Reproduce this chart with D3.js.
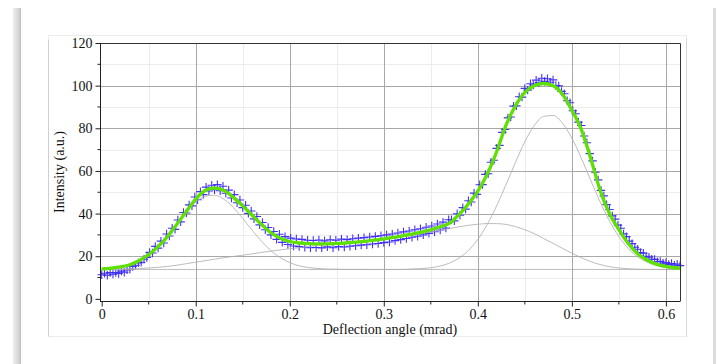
<!DOCTYPE html>
<html>
<head>
<meta charset="utf-8">
<script src="https://cdn.jsdelivr.net/npm/d3@7"></script>
<style>
  html, body { margin: 0; padding: 0; background: #fff; }
  svg { display: block; }
  text { font-family: "Liberation Serif", "DejaVu Serif", serif; fill: #111; }
</style>
</head>
<body>
<svg id="chart" width="717" height="364"></svg>
<script>
// ---- data -------------------------------------------------------------
// Angles (mrad) at which the fitted model and its components are sampled
const fitAngle = [0,0.01,0.02,0.03,0.04,0.05,0.06,0.07,0.08,0.09,0.10,0.11,0.12,0.13,0.14,0.15,0.16,0.17,0.18,0.19,
  0.20,0.21,0.22,0.23,0.24,0.25,0.26,0.27,0.28,0.29,0.30,0.31,0.32,0.33,0.34,0.35,0.36,0.37,0.38,0.39,
  0.40,0.41,0.42,0.43,0.44,0.45,0.46,0.47,0.48,0.49,0.50,0.51,0.52,0.53,0.54,0.55,0.56,0.57,0.58,0.59,
  0.60,0.61,0.615];

// Total fit (green)
const fitIntensity = [14.0,14.4,15.0,16.0,18.0,20.8,24.5,29.2,35.0,41.0,46.8,50.8,52.0,50.8,47.6,43.6,39.2,34.9,31.0,28.4,
  26.9,26.2,25.9,25.8,25.8,26.0,26.2,26.6,27.0,27.5,28.1,28.8,29.6,30.4,31.3,32.4,33.8,35.5,39.5,44.5,
  50.5,58.5,69.0,81.5,90.5,96.8,100.0,101.0,100.0,96.0,88.5,79.5,66.0,51.0,40.0,32.5,26.0,21.2,18.2,16.3,
  15.2,14.6,14.4];

// Fit components on the common background (grey)
const peakLowComponent = [14.1,14.5,15.1,16.3,18.3,21.2,25.1,30.0,35.5,40.9,45.4,48.1,48.6,46.7,42.9,37.7,32.2,27.0,22.6,19.3,
  17.0,15.5,14.7,14.2,14.0,13.9,13.8,13.8,13.8,13.8,13.8,13.8,13.8,13.8,13.8,13.8,13.8,13.8,13.8,13.8,
  13.8,13.8,13.8,13.8,13.8,13.8,13.8,13.8,13.8,13.8,13.8,13.8,13.8,13.8,13.8,13.8,13.8,13.8,13.8,13.8,
  13.8,13.8,13.8];
const broadComponent = [13.8,13.8,13.9,14.0,14.2,14.5,14.8,15.2,15.8,16.5,17.2,17.9,18.6,19.3,19.9,20.5,21.1,21.8,22.4,23.0,
  23.5,24.0,24.5,25.0,25.4,25.8,26.2,26.6,27.0,27.5,28.0,28.6,29.2,29.9,30.6,31.4,32.2,33.0,33.8,34.5,
  35.0,35.3,35.3,34.9,33.9,32.4,30.6,28.3,26.0,23.7,21.4,19.3,17.5,16.1,15.1,14.5,14.1,13.9,13.8,13.8,
  13.8,13.8,13.8];
const peakHighComponent = [13.8,13.8,13.8,13.8,13.8,13.8,13.8,13.8,13.8,13.8,13.8,13.8,13.8,13.8,13.8,13.8,13.8,13.8,13.8,13.8,
  13.8,13.8,13.8,13.8,13.8,13.8,13.8,13.8,13.8,13.8,13.8,13.8,13.8,14.0,14.2,14.6,15.4,16.8,19.1,22.7,
  27.9,34.9,43.6,53.6,64.0,73.7,81.2,85.6,86.0,82.4,75.4,66.1,55.7,45.5,36.5,29.2,23.6,19.7,17.2,15.6,
  14.7,14.3,14.1];

// Measured profile (blue crosses), one sample every 0.003 mrad from 0
const dataStart = 0;
const dataStep = 0.003;
const dataIntensity = [
  11.3,12.0,11.1,12.3,11.6,12.4,11.9,13.0,12.5,13.6,13.9,15.2,15.8,16.9,17.2,18.6,19.4,21.8,21.5,24.6,
  23.8,27.1,26.2,30.4,29.5,33.1,32.6,37.0,36.1,40.5,40.3,44.1,43.6,47.8,46.5,50.3,48.9,52.4,50.6,53.3,
  51.2,53.6,50.7,52.8,49.5,51.0,47.3,48.9,45.1,46.4,42.8,43.9,40.1,41.2,37.5,38.6,34.7,35.8,32.4,33.5,
  30.0,31.6,27.9,30.3,26.5,29.2,25.5,28.5,24.8,28.1,24.5,27.9,24.2,27.5,24.0,27.4,24.1,27.6,23.9,27.2,
  24.4,27.7,24.0,27.5,24.5,28.0,24.3,27.8,24.7,28.2,24.9,28.5,25.2,28.7,25.4,29.0,25.7,29.3,26.0,29.6,
  26.4,30.0,26.7,30.4,27.3,30.9,27.8,31.4,28.3,31.8,28.9,32.4,29.4,32.9,30.0,33.6,30.7,34.2,31.5,35.1,
  32.3,36.0,33.2,37.1,37.1,36.6,39.9,39.2,42.8,42.1,46.0,45.4,49.6,49.0,53.5,53.6,58.4,58.7,64.1,65.0,
  70.6,72.0,78.1,79.4,84.9,85.3,90.4,90.5,94.8,94.6,98.7,97.9,100.9,100.3,102.6,101.4,103.5,102.0,103.2,101.6,
  102.7,100.1,99.9,97.3,96.2,92.9,92.0,88.2,86.8,82.9,81.3,76.4,73.2,68.1,64.7,59.4,55.8,50.9,48.3,44.2,
  41.9,38.9,37.4,34.6,33.1,30.5,29.2,27.1,25.9,24.2,23.3,21.7,21.4,20.0,19.6,18.6,18.5,17.4,17.6,16.7,
  17.0,16.2,16.6,15.8,16.3,15.6
];

// Axis ticks
const xTickValues = [0, 0.1, 0.2, 0.3, 0.4, 0.5, 0.6];
const xMinorValues = [0.05, 0.15, 0.25, 0.35, 0.45, 0.55];
const yTickValues = [0, 20, 40, 60, 80, 100, 120];
const yMinorValues = [10, 30, 50, 70, 90, 110];

const xTitle = "Deflection angle (mrad)";
const yTitle = "Intensity (a.u.)";

// ---- layout -----------------------------------------------------------
const svg = d3.select("#chart");
const plot = { left: 100, right: 680, top: 43, bottom: 301 };
const fontSize = 14;

const x = d3.scaleLinear().domain([-0.0018, 0.615]).range([plot.left, plot.right]);
const y = d3.scaleLinear().domain([-1, 120]).range([plot.bottom, plot.top]);

// page frame around the figure
const defs = svg.append("defs");
const grad = defs.append("linearGradient").attr("id", "pageEdge");
grad.append("stop").attr("offset", "0%").attr("stop-color", "#eeeeee");
grad.append("stop").attr("offset", "70%").attr("stop-color", "#d6d6d6");
grad.append("stop").attr("offset", "100%").attr("stop-color", "#bdbdbd");
svg.append("rect").attr("x", 13).attr("y", 8).attr("width", 8).attr("height", 356).attr("fill", "url(#pageEdge)");
svg.append("rect").attr("x", 713).attr("y", 8).attr("width", 3).attr("height", 356).attr("fill", "#dcdcdc");

// figure panel
svg.append("rect")
  .attr("x", 48.5).attr("y", 35.5).attr("width", 638).attr("height", 301)
  .attr("fill", "#fff").attr("stroke", "#ececec");
svg.append("line").attr("x1", 48.5).attr("x2", 48.5).attr("y1", 40).attr("y2", 336.5)
  .attr("stroke", "#cfcfcf");
svg.append("line").attr("x1", 686.5).attr("x2", 686.5).attr("y1", 38).attr("y2", 336.5)
  .attr("stroke", "#d8d8d8");

// grid
const grid = svg.append("g");
grid.selectAll(".vminor").data(xMinorValues).join("line")
  .attr("x1", d => Math.round(x(d)) + 0.5).attr("x2", d => Math.round(x(d)) + 0.5)
  .attr("y1", plot.top).attr("y2", plot.bottom)
  .attr("stroke", "#ececec");
grid.selectAll(".hminor").data(yMinorValues).join("line")
  .attr("y1", d => Math.round(y(d)) + 0.5).attr("y2", d => Math.round(y(d)) + 0.5)
  .attr("x1", plot.left).attr("x2", plot.right)
  .attr("stroke", "#ececec");
grid.selectAll(".vmajor").data(xTickValues.filter(d => d > 0)).join("line")
  .attr("x1", d => Math.round(x(d)) + 0.5).attr("x2", d => Math.round(x(d)) + 0.5)
  .attr("y1", plot.top).attr("y2", plot.bottom)
  .attr("stroke", "#a8a8a8");
grid.selectAll(".hmajor").data(yTickValues.filter(d => d > 0 && d < 120)).join("line")
  .attr("y1", d => Math.round(y(d)) + 0.5).attr("y2", d => Math.round(y(d)) + 0.5)
  .attr("x1", plot.left).attr("x2", plot.right)
  .attr("stroke", "#a8a8a8");

// measured points as crosses
const arm = 4.2;
const dataAngle = dataIntensity.map((_, i) => dataStart + i * dataStep);
svg.append("g")
  .selectAll("path").data(dataIntensity).join("path")
  .attr("d", (d, i) => {
    const px = x(dataAngle[i]), py = y(d);
    return `M${px - arm},${py}H${px + arm}M${px},${py - arm}V${py + arm}`;
  })
  .attr("stroke", "#3a28f5").attr("stroke-opacity", 0.95).attr("stroke-width", 1.1).attr("fill", "none");

// fit components
const line = d3.line().x(d => x(d[0])).y(d => y(d[1])).curve(d3.curveMonotoneX);
const pairs = vals => fitAngle.map((a, i) => [a, vals[i]]);
[peakLowComponent, broadComponent, peakHighComponent].forEach(comp => {
  svg.append("path").attr("d", line(pairs(comp)))
    .attr("fill", "none").attr("stroke", "#ababab").attr("stroke-width", 0.8);
});

// total fit
svg.append("path").attr("d", line(pairs(fitIntensity)))
  .attr("fill", "none").attr("stroke", "#5ee000").attr("stroke-width", 3.3)
  .attr("stroke-linejoin", "round");

// frame: top and right border
svg.append("path")
  .attr("d", `M${plot.left},${plot.top + 0.5}H${plot.right + 0.5}V${plot.bottom}`)
  .attr("fill", "none").attr("stroke", "#333");

// axes
const xAxis = d3.axisBottom(x).tickValues(xTickValues).tickSize(5).tickPadding(3)
  .tickFormat(d => d === 0 ? "0" : d3.format(".1f")(d));
const gx = svg.append("g").attr("transform", `translate(0,${plot.bottom + 0.5})`).call(xAxis);
gx.select(".domain").attr("stroke", "#222").attr("d", `M${plot.left},0H${plot.right + 0.5}`);
gx.selectAll(".tick line").attr("stroke", "#222");
gx.selectAll(".tick text").attr("font-size", fontSize).attr("font-family", "Liberation Serif, serif").attr("fill", "#111");
gx.selectAll(".minor").data(xMinorValues).join("line").attr("class", "minor")
  .attr("x1", d => x(d)).attr("x2", d => x(d)).attr("y1", 0).attr("y2", 3).attr("stroke", "#222");

const yAxis = d3.axisLeft(y).tickValues(yTickValues).tickSize(5).tickPadding(3);
const gy = svg.append("g").attr("transform", `translate(${plot.left + 0.5},0)`).call(yAxis);
gy.select(".domain").attr("stroke", "#222").attr("d", `M0,${plot.top}V${plot.bottom + 0.5}`);
gy.selectAll(".tick line").attr("stroke", "#222");
gy.selectAll(".tick text").attr("font-size", fontSize).attr("font-family", "Liberation Serif, serif").attr("fill", "#111");
gy.selectAll(".minor").data(yMinorValues).join("line").attr("class", "minor")
  .attr("y1", d => y(d)).attr("y2", d => y(d)).attr("x1", 0).attr("x2", -3).attr("stroke", "#222");

// axis titles
svg.append("text")
  .attr("x", (plot.left + plot.right) / 2).attr("y", 334)
  .attr("text-anchor", "middle").attr("font-size", fontSize)
  .text(xTitle);
svg.append("text")
  .attr("transform", `translate(64,${(plot.top + plot.bottom) / 2}) rotate(-90)`)
  .attr("text-anchor", "middle").attr("font-size", fontSize)
  .text(yTitle);
</script>
</body>
</html>
